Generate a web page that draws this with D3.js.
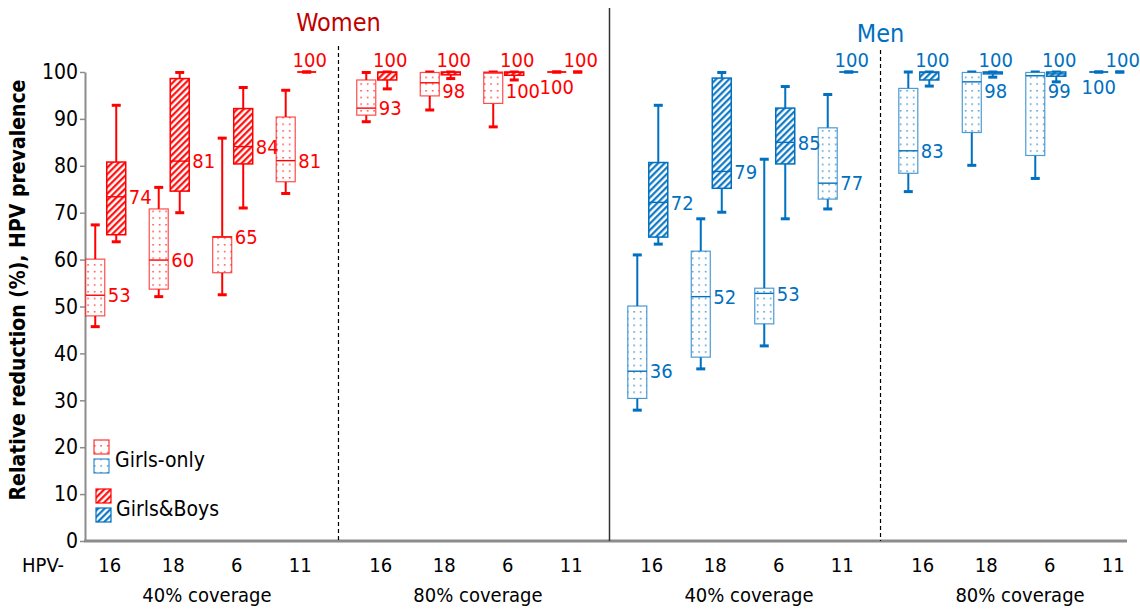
<!DOCTYPE html>
<html><head><meta charset="utf-8">
<script src="https://cdn.jsdelivr.net/npm/d3@7"></script>
<style>
body{margin:0;background:#fff}
svg{display:block}
text{font-family:"DejaVu Sans Condensed","DejaVu Sans",sans-serif}
</style>
</head><body>
<svg id="chart" width="1140" height="609"></svg>
<script>
// ---------- DATA ----------
const hpvTypes = ["16", "18", "6", "11"];
const groupKeys = ["W40", "W80", "M40", "M80"];
const groupLabels = ["40% coverage", "80% coverage", "40% coverage", "80% coverage"];
const groupSex = ["Women", "Women", "Men", "Men"];
const strategies = ["Girls-only", "Girls&Boys"];
const panelTitles = ["Women", "Men"];
const yTicks = [0, 10, 20, 30, 40, 50, 60, 70, 80, 90, 100];
const yTitle = "Relative reduction (%), HPV prevalence";

// box statistics per HPV type: [min, q1, median, q3, max]
const women40GirlsOnly = [[45.7, 48.0, 52.4, 60.1, 67.4], [52.1, 53.7, 59.9, 70.8, 75.4], [52.5, 57.2, 64.8, 64.9, 85.9], [74.1, 76.6, 81.1, 90.4, 96.1]];
const women40GirlsBoys = [[63.8, 65.3, 73.4, 80.8, 92.9], [70.0, 74.6, 81.0, 98.6, 99.9], [71.0, 80.4, 84.1, 92.2, 96.7], [100, 100, 100, 100, 100]];
const women80GirlsOnly = [[89.4, 90.8, 92.3, 98.3, 99.9], [91.9, 94.9, 97.7, 99.9, 100], [88.3, 93.3, 99.8, 100, 100], [100, 100, 100, 100, 100]];
const women80GirlsBoys = [[96.4, 98.3, 99.9, 100, 100], [98.6, 99.4, 99.9, 100, 100], [98.3, 99.3, 99.9, 100, 100], [100, 100, 100, 100, 100]];
const men40GirlsOnly = [[27.9, 30.4, 36.2, 50.1, 61.0], [36.7, 39.2, 52.1, 61.8, 68.7], [41.6, 46.3, 52.8, 53.9, 81.4], [70.8, 72.9, 76.3, 88.1, 95.2]];
const men40GirlsBoys = [[63.3, 64.8, 72.2, 80.7, 92.9], [70.1, 75.2, 78.8, 98.7, 99.9], [68.7, 80.4, 85.0, 92.3, 96.9], [100, 100, 100, 100, 100]];
const men80GirlsOnly = [[74.5, 78.4, 83.2, 96.5, 100], [80.1, 87.1, 97.9, 99.9, 100], [77.3, 82.2, 99.2, 99.9, 100], [100, 100, 100, 100, 100]];
const men80GirlsBoys = [[97.0, 98.3, 99.9, 100, 100], [98.9, 99.6, 99.9, 100, 100], [97.9, 99.1, 99.6, 100, 100], [100, 100, 100, 100, 100]];

// printed value labels
const women40GirlsOnlyLabels = [53, 60, 65, 81];
const women40GirlsBoysLabels = [74, 81, 84, 100];
const women80GirlsOnlyLabels = [93, 98, 100, 100];
const women80GirlsBoysLabels = [100, 100, 100, 100];
const men40GirlsOnlyLabels = [36, 52, 53, 77];
const men40GirlsBoysLabels = [72, 79, 85, 100];
const men80GirlsOnlyLabels = [83, 98, 99, 100];
const men80GirlsBoysLabels = [100, 100, 100, 100];

// ---------- assemble ----------
const seriesStats = {
  W40: [women40GirlsOnly, women40GirlsBoys],
  W80: [women80GirlsOnly, women80GirlsBoys],
  M40: [men40GirlsOnly, men40GirlsBoys],
  M80: [men80GirlsOnly, men80GirlsBoys]
};
const seriesLabels = {
  W40: [women40GirlsOnlyLabels, women40GirlsBoysLabels],
  W80: [women80GirlsOnlyLabels, women80GirlsBoysLabels],
  M40: [men40GirlsOnlyLabels, men40GirlsBoysLabels],
  M80: [men80GirlsOnlyLabels, men80GirlsBoysLabels]
};
const boxes = [];
groupKeys.forEach((g, gi) => {
  strategies.forEach((s, si) => {
    hpvTypes.forEach((t, ti) => {
      const v = seriesStats[g][si][ti];
      boxes.push({group: g, gi, sex: groupSex[gi], strategy: s, si, type: t, ti,
        min: v[0], q1: v[1], med: v[2], q3: v[3], max: v[4], label: seriesLabels[g][si][ti]});
    });
  });
});

// ---------- layout ----------
const svg = d3.select("#chart");
const color = {Women: "#ff0000", Men: "#0070c0"};
const titleColor = {Women: "#c00000", Men: "#0070c0"};
const y = d3.scaleLinear().domain([0, 100]).range([541, 72]);
const xGroup = d3.scaleBand().domain(groupKeys).range([74, 1141]).paddingInner(0.063);
const xType = d3.scaleBand().domain(hpvTypes).range([0, xGroup.bandwidth()]);
const xStrat = d3.scaleBand().domain(strategies).range([-21, 21]);
const boxW = 19;
const cx = d => xGroup(d.group) + xType(d.type) + xType.bandwidth() / 2 + xStrat(d.strategy) + xStrat.bandwidth() / 2;

// ---------- patterns ----------
const defs = svg.append("defs");
Object.entries(color).forEach(([k, c]) => {
  const p = defs.append("pattern").attr("id", "dots" + k).attr("patternUnits", "userSpaceOnUse")
    .attr("width", 6.5).attr("height", 6.7);
  p.append("rect").attr("width", 6.5).attr("height", 6.7).attr("fill", "#fff");
  p.append("rect").attr("x", 3).attr("y", 3).attr("width", 1.3).attr("height", 1.3).attr("fill", c);
  const h = defs.append("pattern").attr("id", "hatch" + k).attr("patternUnits", "userSpaceOnUse")
    .attr("width", 4.6).attr("height", 10).attr("patternTransform", "rotate(45)");
  h.append("rect").attr("width", 4.6).attr("height", 10).attr("fill", "#fff");
  h.append("line").attr("x1", 1.2).attr("x2", 1.2).attr("y1", 0).attr("y2", 10)
    .attr("stroke", c).attr("stroke-width", 2.1);
});
const fillOf = d => d.si === 0 ? `url(#dots${d.sex})` : `url(#hatch${d.sex})`;

// ---------- axes ----------
const yAxis = svg.append("g").attr("transform", "translate(85,0)")
  .call(d3.axisLeft(y).tickValues(yTicks).tickSize(5).tickPadding(2).tickSizeOuter(0));
yAxis.select(".domain").attr("stroke", "#8c8c8c").attr("stroke-width", 2);
yAxis.selectAll(".tick line").attr("stroke", "#8c8c8c").attr("stroke-width", 1.5);
yAxis.selectAll(".tick text").attr("font-size", 21).attr("fill", "#000")
  .attr("font-family", "'DejaVu Sans Condensed','DejaVu Sans',sans-serif");

svg.append("line").attr("x1", 84).attr("x2", 1127).attr("y1", y(0)).attr("y2", y(0))
  .attr("stroke", "#8c8c8c").attr("stroke-width", 3);

svg.append("text").attr("transform", `translate(25,290) rotate(-90)`)
  .attr("text-anchor", "middle").attr("font-weight", "bold").attr("font-size", 21)
  .attr("font-family", "'DejaVu Sans','DejaVu Sans Condensed',sans-serif")
  .text(yTitle);

// category labels
svg.append("text").attr("x", 22).attr("y", 572).attr("font-size", 20).text("HPV-");
const cats = [];
groupKeys.forEach(g => hpvTypes.forEach(t => cats.push({g, t})));
svg.selectAll(".cat").data(cats).join("text").attr("class", "cat")
  .attr("x", d => xGroup(d.g) + xType(d.t) + xType.bandwidth() / 2 + 4)
  .attr("y", 572).attr("text-anchor", "middle").attr("font-size", 20).text(d => d.t);
svg.selectAll(".grp").data(groupKeys).join("text").attr("class", "grp")
  .attr("x", d => xGroup(d) + xGroup.bandwidth() / 2 + 6)
  .attr("y", 602).attr("text-anchor", "middle").attr("font-size", 20)
  .text((d, i) => groupLabels[i]);

// dividers
const divX = i => (xGroup(groupKeys[i]) + xGroup.bandwidth() + xGroup(groupKeys[i + 1])) / 2 + 2;
svg.append("line").attr("x1", divX(0)).attr("x2", divX(0)).attr("y1", 46).attr("y2", y(0))
  .attr("stroke", "#000").attr("stroke-width", 1.2).attr("stroke-dasharray", "4,3");
svg.append("line").attr("x1", divX(1)).attr("x2", divX(1)).attr("y1", 8).attr("y2", y(0))
  .attr("stroke", "#333").attr("stroke-width", 1.5);
svg.append("line").attr("x1", divX(2)).attr("x2", divX(2)).attr("y1", 50).attr("y2", y(0))
  .attr("stroke", "#000").attr("stroke-width", 1.2).attr("stroke-dasharray", "4,3");

// titles
svg.append("text").attr("x", divX(0)).attr("y", 31).attr("text-anchor", "middle")
  .attr("font-size", 25).attr("fill", titleColor.Women)
  .attr("font-family", "'DejaVu Sans','DejaVu Sans Condensed',sans-serif").text(panelTitles[0]);
svg.append("text").attr("x", divX(2)).attr("y", 42).attr("text-anchor", "middle")
  .attr("font-size", 25).attr("fill", titleColor.Men)
  .attr("font-family", "'DejaVu Sans','DejaVu Sans Condensed',sans-serif").text(panelTitles[1]);

// ---------- boxes ----------
const gB = svg.append("g");
boxes.forEach(d => {
  const c = color[d.sex];
  const x0 = cx(d);
  const g = gB.append("g");
  const degenerate = d.max - d.min === 0;
  const capOnly = degenerate && d.si === 1 && d.gi % 2 === 1;
  if (!degenerate) {
    g.append("line").attr("x1", x0).attr("x2", x0).attr("y1", y(d.q3)).attr("y2", y(d.max))
      .attr("stroke", c).attr("stroke-width", 2);
    g.append("line").attr("x1", x0).attr("x2", x0).attr("y1", y(d.q1)).attr("y2", y(d.min))
      .attr("stroke", c).attr("stroke-width", 2);
  }
  [d.min, d.max].forEach(v => {
    g.append("line").attr("x1", x0 - 4.5).attr("x2", x0 + 4.5).attr("y1", y(v)).attr("y2", y(v))
      .attr("stroke", c).attr("stroke-width", 3);
  });
  if (!capOnly) {
    if (degenerate) {
      g.append("line").attr("x1", x0 - boxW / 2).attr("x2", x0 + boxW / 2)
        .attr("y1", y(d.med)).attr("y2", y(d.med)).attr("stroke", c).attr("stroke-width", 1.8);
    } else {
      g.append("rect").attr("x", x0 - boxW / 2).attr("width", boxW)
        .attr("y", y(d.q3)).attr("height", Math.max(y(d.q1) - y(d.q3), 1.5))
        .attr("fill", fillOf(d)).attr("stroke", c)
        .attr("stroke-opacity", d.si === 0 ? 0.7 : 1)
        .attr("stroke-width", d.si === 0 ? 1.2 : 1.5);
      g.append("line").attr("x1", x0 - boxW / 2).attr("x2", x0 + boxW / 2)
        .attr("y1", y(d.med)).attr("y2", y(d.med)).attr("stroke", c).attr("stroke-width", 1.4);
    }
  }
  const t = g.append("text").attr("fill", c).attr("font-size", 20).text(d.label);
  if (d.si === 1 && d.label === 100) {
    t.attr("x", x0 + 3).attr("y", y(100) - 5).attr("text-anchor", "middle");
  } else if (degenerate) {
    t.attr("x", x0).attr("y", y(100) + 22).attr("text-anchor", "middle");
  } else {
    t.attr("x", x0 + boxW / 2 + 3).attr("y", y(Math.min(d.med, 96))).attr("dy", "0.36em");
  }
});

// ---------- legend ----------
const leg = svg.append("g");
const legItems = [
  {sex: "Women", si: 0, x: 94, y: 440},
  {sex: "Men", si: 0, x: 94, y: 459},
  {sex: "Women", si: 1, x: 96, y: 489},
  {sex: "Men", si: 1, x: 96, y: 508}
];
legItems.forEach(d => {
  leg.append("rect").attr("x", d.x).attr("y", d.y).attr("width", 15).attr("height", 14)
    .attr("fill", fillOf(d)).attr("stroke", color[d.sex]).attr("stroke-width", 1.2)
    .attr("stroke-opacity", d.si === 0 ? 0.8 : 1);
});
leg.append("text").attr("x", 115).attr("y", 467).attr("font-size", 21).text(strategies[0]);
leg.append("text").attr("x", 116).attr("y", 516).attr("font-size", 21).text(strategies[1]);
</script>
</body></html>
